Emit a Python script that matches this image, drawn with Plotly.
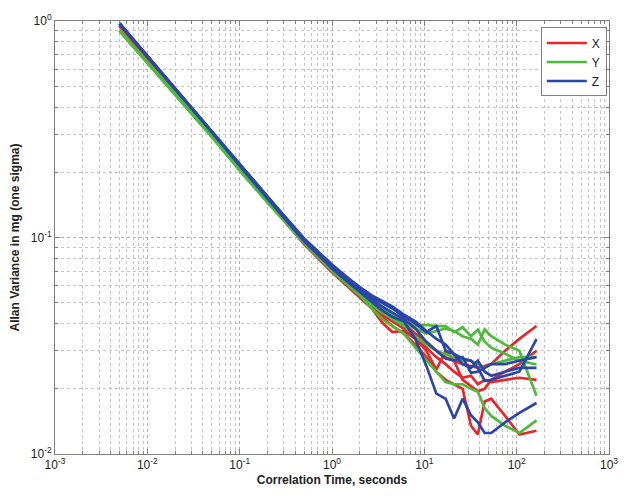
import plotly.graph_objects as go

tau = [0.005, 0.01, 0.02, 0.05, 0.1, 0.2, 0.5, 1.0, 1.5, 2.0, 2.7, 3.5, 4.5,
       6, 8, 10.5, 13.5, 17, 21, 26, 32, 38, 45, 53, 75, 107, 164]

x_red = [
    [0.955, 0.675, 0.478, 0.302, 0.212, 0.150, 0.095, 0.071, 0.061, 0.055, 0.049, 0.045, 0.042,
     0.040, 0.036, 0.033, 0.030, 0.028, 0.027, 0.026, 0.0255, 0.025, 0.0255, 0.026, 0.030, 0.034, 0.039],
    [0.950, 0.670, 0.474, 0.299, 0.210, 0.148, 0.093, 0.069, 0.059, 0.053, 0.047, 0.0405, 0.0366,
     0.037, 0.034, 0.030, 0.0245, 0.030, 0.027, 0.022, 0.0205, 0.0195, 0.020, 0.022, 0.024, 0.026, 0.030],
    [0.958, 0.678, 0.480, 0.303, 0.213, 0.151, 0.096, 0.072, 0.062, 0.056, 0.050, 0.044, 0.041,
     0.038, 0.035, 0.031, 0.028, 0.026, 0.024, 0.0225, 0.023, 0.021, 0.022, 0.0215, 0.022, 0.0225, 0.022],
    [0.952, 0.672, 0.476, 0.300, 0.211, 0.149, 0.094, 0.070, 0.060, 0.054, 0.048, 0.043, 0.039,
     0.036, 0.032, 0.028, 0.024, 0.022, 0.021, 0.020, 0.0135, 0.0123, 0.0175, 0.018, 0.015, 0.0123, 0.0128],
]

y_green = [
    [0.905, 0.645, 0.462, 0.295, 0.207, 0.148, 0.097, 0.073, 0.063, 0.057, 0.051, 0.047, 0.044,
     0.041, 0.039, 0.0395, 0.039, 0.039, 0.0365, 0.0385, 0.035, 0.0375, 0.033, 0.031, 0.029, 0.027, 0.0259],
    [0.900, 0.642, 0.460, 0.293, 0.205, 0.146, 0.095, 0.072, 0.062, 0.056, 0.050, 0.046, 0.043,
     0.040, 0.038, 0.036, 0.037, 0.038, 0.037, 0.035, 0.034, 0.032, 0.0376, 0.035, 0.032, 0.030, 0.0186],
    [0.898, 0.640, 0.457, 0.291, 0.204, 0.145, 0.094, 0.070, 0.060, 0.054, 0.047, 0.042, 0.039,
     0.036, 0.031, 0.027, 0.024, 0.0215, 0.021, 0.021, 0.020, 0.0194, 0.0163, 0.015, 0.0135, 0.0125, 0.0143],
    [0.908, 0.648, 0.464, 0.296, 0.208, 0.149, 0.096, 0.071, 0.061, 0.055, 0.049, 0.045, 0.042,
     0.039, 0.035, 0.032, 0.030, 0.029, 0.028, 0.027, 0.027, 0.026, 0.025, 0.026, 0.027, 0.028, 0.028],
]

z_blue = [
    [0.975, 0.690, 0.488, 0.308, 0.217, 0.153, 0.098, 0.074, 0.064, 0.058, 0.053, 0.050, 0.047,
     0.043, 0.040, 0.0366, 0.039, 0.030, 0.029, 0.0276, 0.027, 0.025, 0.0218, 0.022, 0.023, 0.024, 0.0339],
    [0.970, 0.686, 0.486, 0.306, 0.216, 0.152, 0.097, 0.073, 0.063, 0.057, 0.052, 0.048, 0.045,
     0.042, 0.038, 0.033, 0.030, 0.0276, 0.027, 0.028, 0.0237, 0.024, 0.025, 0.026, 0.026, 0.027, 0.028],
    [0.972, 0.688, 0.487, 0.307, 0.215, 0.151, 0.096, 0.072, 0.062, 0.056, 0.050, 0.046, 0.043,
     0.041, 0.034, 0.0256, 0.019, 0.018, 0.0146, 0.018, 0.0151, 0.014, 0.0125, 0.0125, 0.014, 0.0155, 0.0172],
    [0.978, 0.692, 0.490, 0.309, 0.218, 0.154, 0.099, 0.075, 0.065, 0.059, 0.054, 0.051, 0.048,
     0.044, 0.041, 0.037, 0.034, 0.032, 0.029, 0.026, 0.025, 0.027, 0.024, 0.023, 0.024, 0.025, 0.025],
]

groups = [("X", "#e8262a", x_red), ("Y", "#4cbb3c", y_green), ("Z", "#2b46a8", z_blue)]

fig = go.Figure()
for name, color, series in groups:
    for i, vals in enumerate(series):
        fig.add_trace(go.Scatter(
            x=tau, y=vals, mode="lines", name=name,
            line=dict(color=color, width=2.7),
            showlegend=(i == 0),
        ))

xtickvals = [0.001, 0.01, 0.1, 1, 10, 100, 1000]
xticktext = ["10<sup>-3</sup>", "10<sup>-2</sup>", "10<sup>-1</sup>", "10<sup>0</sup>",
             "10<sup>1</sup>", "10<sup>2</sup>", "10<sup>3</sup>"]
ytickvals = [0.01, 0.1, 1]
yticktext = ["10<sup>-2</sup>", "10<sup>-1</sup>", "10<sup>0</sup>"]

x_minor = [m * 10.0 ** k for k in range(-3, 3) for m in range(2, 10)]
y_minor = [m * 10.0 ** k for k in range(-2, 0) for m in range(2, 10)]


def axis_common(minor_vals):
    return dict(
        type="log", showline=True, linecolor="#808080", linewidth=1, mirror="ticks",
        ticks="inside", ticklen=5, tickcolor="#808080",
        tickfont=dict(family="Liberation Sans, Arial", size=12, color="#222"),
        zeroline=False, ticklabeloverflow="allow",
        showgrid=True, gridcolor="#b0b0b0", griddash="dot", gridwidth=1,
        minor=dict(tickmode="array", tickvals=minor_vals,
                   ticks="inside", ticklen=3, tickcolor="#808080",
                   showgrid=True, gridcolor="#c4c4c4", griddash="dot", gridwidth=1),
    )


fig.update_layout(
    width=630, height=497,
    margin=dict(l=55, r=20, t=19, b=41),
    paper_bgcolor="white", plot_bgcolor="white",
    font=dict(family="Liberation Sans, Arial", color="#222"),
    xaxis=dict(range=[-3, 3], tickmode="array", tickvals=xtickvals, ticktext=xticktext,
               title=dict(text="<b>Correlation Time, seconds</b>", font=dict(size=12), standoff=4),
               **axis_common(x_minor)),
    yaxis=dict(range=[-2, 0], tickmode="array", tickvals=ytickvals, ticktext=yticktext,
               title=dict(text="<b>Allan Variance in mg (one sigma)</b>", font=dict(size=12), standoff=8),
               **axis_common(y_minor)),
    legend=dict(x=0.996, y=0.985, xanchor="right", yanchor="top",
                bgcolor="white", bordercolor="#808080", borderwidth=1,
                font=dict(size=12, family="Liberation Sans, Arial"),
                itemwidth=40, tracegroupgap=0),
)

fig.write_html(
    "out.html",
    config={"displayModeBar": False},
    post_script="document.body.style.margin='0';document.body.style.padding='0';"
                "document.body.style.overflow='hidden';",
)
